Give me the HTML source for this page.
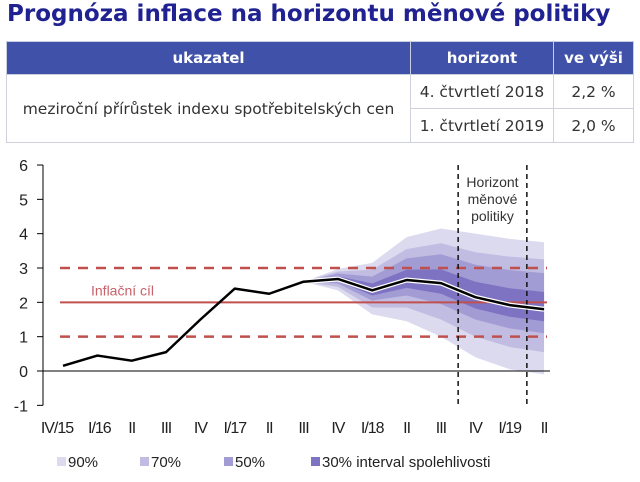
<!DOCTYPE html>
<html><head><meta charset="utf-8"><style>
body{margin:0;background:#fff;width:640px;height:482px;overflow:hidden;font-family:"Liberation Sans",Arial,sans-serif}
#title{position:absolute;left:7px;top:1px;font-family:"DejaVu Sans","Liberation Sans",sans-serif;font-weight:bold;font-size:23px;color:#1f2290;letter-spacing:0px}
table{position:absolute;left:6px;top:41px;width:627px;table-layout:fixed;border-collapse:collapse;font-family:"DejaVu Sans","Liberation Sans",sans-serif;font-size:15.5px;color:#333}
th{background:#3f51a9;color:#fff;font-weight:bold;height:32px;border:1px solid #c9cde0;font-size:15px;padding:0}
td{border:1px solid #cfd2dc;height:33px;text-align:center;padding:0}
svg{position:absolute;left:0;top:0}
svg text{font-family:"Liberation Sans",Arial,sans-serif}
</style></head><body>
<div id="title">Prognóza inflace na horizontu měnové politiky</div>
<table>
<colgroup><col style="width:404px"><col style="width:143px"><col style="width:80px"></colgroup>
<tr><th>ukazatel</th><th>horizont</th><th>ve výši</th></tr>
<tr><td rowspan="2">meziroční přírůstek indexu spotřebitelských cen</td><td>4. čtvrtletí 2018</td><td>2,2 %</td></tr>
<tr><td>1. čtvrtletí 2019</td><td>2,0 %</td></tr>
</table>
<svg id="chart" width="640" height="482"></svg>
<script>
const categories=["IV/15","I/16","II","III","IV","I/17","II","III","IV","I/18","II","III","IV","I/19","II"];
const inflation=[0.15,0.45,0.3,0.55,1.5,2.4,2.25,2.6,2.68,2.35,2.65,2.56,2.15,1.92,1.8];
const fanStart=7;
const u90=[2.6,2.97,3.15,3.9,4.15,4.0,3.85,3.75];
const l90=[2.6,2.35,1.65,1.45,1.0,0.4,0.05,-0.1];
const u70=[2.6,2.90,2.95,3.55,3.72,3.46,3.33,3.25];
const l70=[2.6,2.45,1.85,1.85,1.5,1.0,0.7,0.55];
const u50=[2.6,2.84,2.75,3.28,3.40,3.10,2.94,2.85];
const l50=[2.6,2.55,2.05,2.2,1.95,1.5,1.24,1.10];
const u30=[2.6,2.76,2.55,2.95,2.96,2.60,2.41,2.30];
const l30=[2.6,2.62,2.2,2.42,2.25,1.82,1.58,1.45];
const yTicks=[-1,0,1,2,3,4,5,6];
const target=2, tolerance=[1,3];
const horizonIdx=[11.5,13.5];
const legendLabels=["90%","70%","50%","30% interval spolehlivosti"];
const NS="http://www.w3.org/2000/svg";
const svg=document.getElementById('chart');
const X=i=>63+i*34.36;
const Y=v=>371-v*34.33;
function el(tag,attrs,parent){const e=document.createElementNS(NS,tag);for(const k in attrs)e.setAttribute(k,attrs[k]);(parent||svg).appendChild(e);return e;}
function band(u,l,color,name){
  let pts=[];u.forEach((v,i)=>pts.push(X(fanStart+i)+','+Y(v)));
  for(let i=l.length-1;i>=0;i--)pts.push(X(fanStart+i)+','+Y(l[i]));
  const p=el('polygon',{points:pts.join(' '),fill:color,'stroke-linejoin':'round'});
  
  
}
band(u90,l90,'#dcdaef','band-90');
band(u70,l70,'#c0bce2','band-70');
band(u50,l50,'#a29cd4','band-50');
band(u30,l30,'#7d73c2','band-30');
let t=el('line',{x1:60,x2:547,y1:Y(target),y2:Y(target),stroke:'#c0504d','stroke-width':2});


tolerance.forEach(v=>{const d=el('line',{x1:60,x2:547,y1:Y(v),y2:Y(v),stroke:'#c0504d','stroke-width':2.5,'stroke-dasharray':'10,8'});

});
let tl=el('text',{x:91,y:Y(target)-7,fill:'#c9606a','font-size':14});tl.textContent='Inflační cíl';


el('line',{x1:43,x2:550,y1:Y(0),y2:Y(0),stroke:'#000','stroke-width':1});
el('line',{x1:43,x2:43,y1:Y(6),y2:Y(-1),stroke:'#000','stroke-width':1});
yTicks.forEach(v=>{el('line',{x1:37,x2:43,y1:Y(v),y2:Y(v),stroke:'#000'});
const tx=el('text',{x:28,y:Y(v)+6,'text-anchor':'end','font-size':16,fill:'#222'});tx.textContent=v;

});
categories.forEach((c,i)=>{const tx=el('text',{x:X(i)+(i==0?-6:i==1?2:0),y:433,'text-anchor':'middle','font-size':16,fill:'#222','letter-spacing':'-1'});tx.textContent=c;

});
horizonIdx.forEach(h=>{const d=el('line',{x1:X(h),x2:X(h),y1:165,y2:406,stroke:'#111','stroke-width':1.5,'stroke-dasharray':'5,4'});

});
["Horizont","měnové","politiky"].forEach((s,i)=>{const tx=el('text',{x:(X(horizonIdx[0])+X(horizonIdx[1]))/2,y:187+i*17,'text-anchor':'middle','font-size':14,fill:'#333'});tx.textContent=s;

});
el('polyline',{points:inflation.slice(fanStart).map((v,i)=>X(fanStart+i)+','+Y(v)).join(' '),fill:'none',stroke:'#fff','stroke-width':5});
const pts=inflation.map((v,i)=>X(i)+','+Y(v)).join(' ');
const ln=el('polyline',{points:pts,fill:'none',stroke:'#000','stroke-width':2.5,'stroke-linejoin':'round'});


const lc=['#dcdaef','#c0bce2','#a29cd4','#7d73c2'];const lx=[57,140,224,311];
legendLabels.forEach((s,i)=>{const g=el('g',{});


el('rect',{x:lx[i],y:457,width:9,height:9,fill:lc[i]},g);
const tx=el('text',{x:lx[i]+11,y:467,'font-size':15,fill:'#222'},g);tx.textContent=s;});
</script>
</body></html>
